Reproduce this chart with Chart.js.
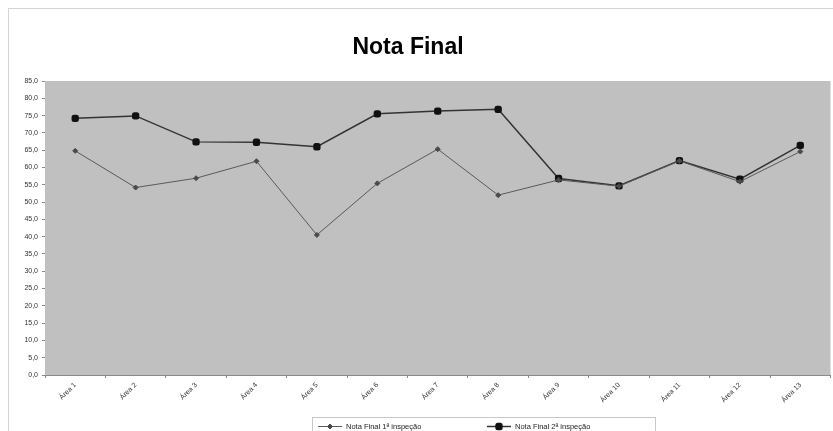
<!DOCTYPE html>
<html>
<head>
<meta charset="utf-8">
<script src="https://cdn.jsdelivr.net/npm/chart.js@4.4.1/dist/chart.umd.min.js"></script>
<style>
  html, body { margin: 0; padding: 0; background: #ffffff; overflow: hidden; }
  #wrap { position: relative; width: 833px; height: 431px; overflow: hidden; }
</style>
</head>
<body>
<div id="wrap"><canvas id="c" width="836" height="431"></canvas></div>
<script>
// Categories and the two inspection series
const categories = ['Área 1', 'Área 2', 'Área 3', 'Área 4', 'Área 5', 'Área 6', 'Área 7',
                    'Área 8', 'Área 9', 'Área 10', 'Área 11', 'Área 12', 'Área 13'];
const notaFinal1 = [64.8, 54.2, 56.9, 61.8, 40.5, 55.4, 65.3, 52.0, 56.4, 54.6, 61.9, 55.9, 64.6];
const notaFinal2 = [74.2, 74.9, 67.4, 67.3, 66.0, 75.5, 76.3, 76.8, 56.8, 54.7, 62.0, 56.6, 66.4];
const seriesNames = ['Nota Final 1ª inspeção', 'Nota Final 2ª inspeção'];
const chartTitle = 'Nota Final';
const yTicks = { min: 0, max: 85, step: 5 };

const FONT = "'Liberation Sans', Arial, sans-serif";

// Grey plot area, outer frame, title and a boxed legend under the axis
const decor = {
  id: 'decor',
  beforeDraw(chart) {
    const { ctx, chartArea: a } = chart;
    ctx.save();
    ctx.fillStyle = '#ffffff';
    ctx.fillRect(0, 0, chart.width, chart.height);
    ctx.strokeStyle = '#d4d4d4';
    ctx.lineWidth = 1;
    ctx.strokeRect(8.5, 8.5, 840, 440);
    ctx.fillStyle = '#c0c0c0';
    ctx.fillRect(a.left, a.top, a.right - a.left, a.bottom - a.top);
    ctx.restore();
  },
  afterDraw(chart) {
    const { ctx } = chart;
    ctx.save();
    ctx.fillStyle = '#000000';
    ctx.font = 'bold 23px ' + FONT;
    ctx.textAlign = 'center';
    ctx.textBaseline = 'middle';
    ctx.fillText(chartTitle, 408, 48);

    // legend frame
    ctx.strokeStyle = '#c8c8c8';
    ctx.lineWidth = 1;
    ctx.strokeRect(312.5, 417.5, 343, 30);

    const entries = [
      { x: 318, ds: chart.data.datasets[0] },
      { x: 487, ds: chart.data.datasets[1] }
    ];
    const y = 426.5;
    entries.forEach(e => {
      ctx.strokeStyle = e.ds.borderColor;
      ctx.lineWidth = e.ds.borderWidth;
      ctx.beginPath();
      ctx.moveTo(e.x, y);
      ctx.lineTo(e.x + 24, y);
      ctx.stroke();
      ctx.fillStyle = e.ds.pointBackgroundColor;
      ctx.strokeStyle = e.ds.pointBorderColor;
      Chart.helpers.drawPoint(ctx, {
        pointStyle: e.ds.pointStyle,
        radius: e.ds.pointRadius,
        borderWidth: 1
      }, e.x + 12, y);
      ctx.fillStyle = '#222222';
      ctx.font = '7.5px ' + FONT;
      ctx.textAlign = 'left';
      ctx.textBaseline = 'middle';
      ctx.fillText(e.ds.label, e.x + 28, y + 0.5);
    });
    ctx.restore();
  }
};

new Chart(document.getElementById('c'), {
  type: 'line',
  data: {
    labels: categories,
    datasets: [
      {
        label: seriesNames[0],
        data: notaFinal1,
        borderColor: '#5a5a5a',
        borderWidth: 1,
        pointStyle: 'rectRot',
        pointRadius: 2.5,
        pointBackgroundColor: '#4a4a4a',
        pointBorderColor: '#4a4a4a',
        tension: 0
      },
      {
        label: seriesNames[1],
        data: notaFinal2,
        borderColor: '#333333',
        borderWidth: 1.5,
        pointStyle: 'rectRounded',
        pointRadius: 3.4,
        pointBackgroundColor: '#111111',
        pointBorderColor: '#111111',
        tension: 0
      }
    ]
  },
  options: {
    responsive: false,
    animation: false,
    devicePixelRatio: 1,
    layout: { padding: { left: 8, top: 81, right: 0, bottom: 0 } },
    plugins: {
      legend: { display: false },
      title: { display: false },
      tooltip: { enabled: false }
    },
    scales: {
      x: {
        offset: true,
        afterFit(scale) { scale.height = 56; },
        grid: { drawOnChartArea: false, drawTicks: true, tickLength: 3, color: '#8a8a8a', offset: true },
        border: { display: true, color: '#8a8a8a', width: 1 },
        ticks: {
          minRotation: 45,
          maxRotation: 45,
          autoSkip: false,
          color: '#333333',
          padding: 3,
          font: { family: FONT, size: 7 }
        }
      },
      y: {
        min: yTicks.min,
        max: yTicks.max,
        afterFit(scale) { scale.width = 37; },
        grid: { drawOnChartArea: false, drawTicks: true, tickLength: 3, color: '#8a8a8a' },
        border: { display: false },
        ticks: {
          stepSize: yTicks.step,
          color: '#333333',
          padding: 4,
          font: { family: FONT, size: 7 },
          callback: v => v.toFixed(1).replace('.', ',')
        }
      }
    }
  },
  plugins: [decor]
});
</script>
</body>
</html>
